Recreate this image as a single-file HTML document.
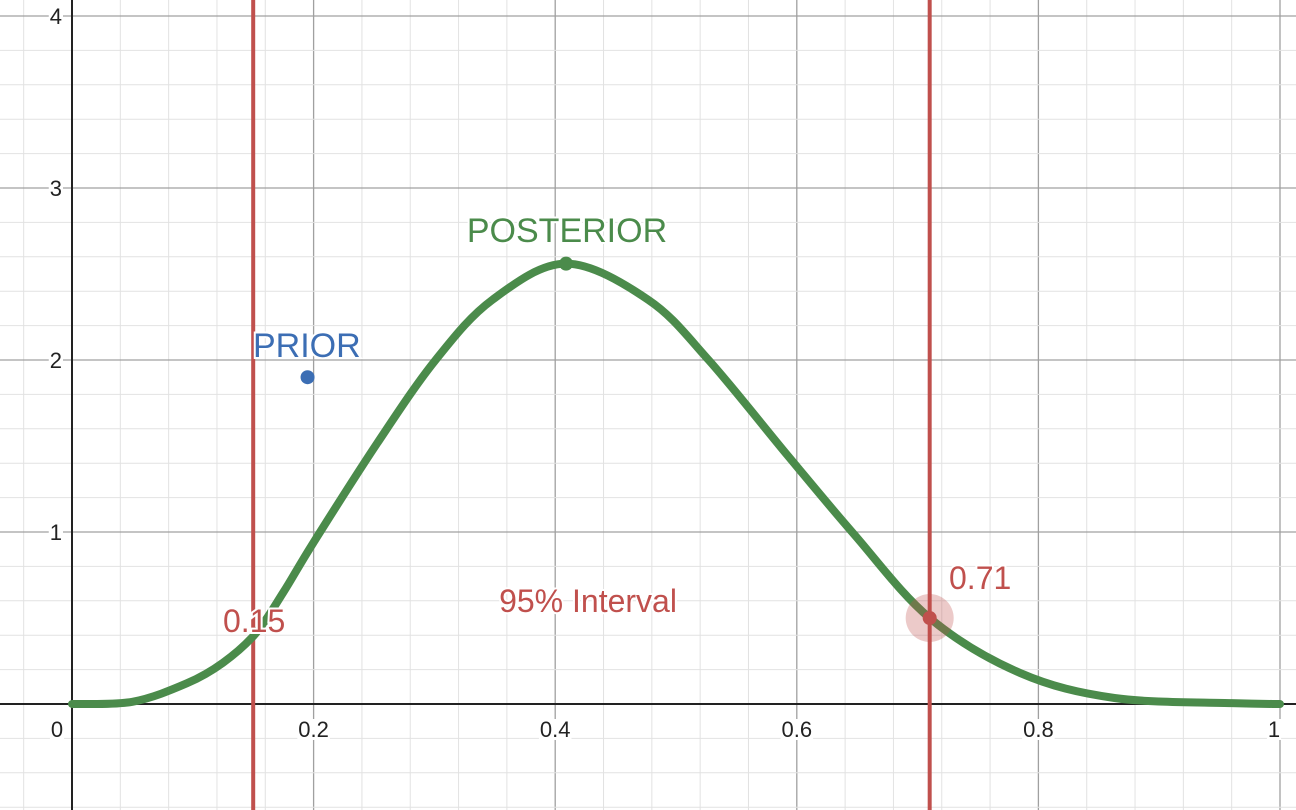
<!DOCTYPE html>
<html><head><meta charset="utf-8"><style>
html,body{margin:0;padding:0;background:#fff;}
svg{display:block;font-family:"Liberation Sans",Arial,sans-serif;}
</style></head><body>
<svg id="chart" width="1296" height="810" viewBox="0 0 1296 810" xmlns="http://www.w3.org/2000/svg">
<g id="grid"></g>
<g id="axes"></g>
<g id="marks"></g>
</svg>
<script>
const curveX = [0,0.05,0.095,0.125,0.152,0.175,0.2,0.253,0.301,0.348,0.409,0.477,0.527,0.593,0.647,0.71,0.785,0.863,0.96,1];
const curveY = [0,0.013,0.12,0.24,0.41,0.65,0.94,1.52,2.0,2.35,2.56,2.35,2.0,1.44,0.99,0.5,0.18,0.035,0.005,0];
const xTicks = [0.2,0.4,0.6,0.8,1];
const xTickLabels = ["0.2","0.4","0.6","0.8","1"];
const yTicks = [1,2,3,4];
const yTickLabels = ["1","2","3","4"];
const intervalBounds = [0.15,0.71];
const intervalLabels = ["0.15","0.71"];
const peak = [0.409,2.56];
const prior = [0.195,1.9];
const upperPointY = 0.5;

const X = v => 72 + v*1208;
const Y = v => 704 - v*172;
const NS="http://www.w3.org/2000/svg";
function mk(parent,tag,attrs){const e=document.createElementNS(NS,tag);for(const k in attrs)e.setAttribute(k,attrs[k]);parent.appendChild(e);return e;}
const grid=document.getElementById('grid'),axes=document.getElementById('axes'),marks=document.getElementById('marks');

for(let i=-10;i<=30;i++){const v=i*0.04;const px=X(v);if(px<0||px>1296)continue;
  const major=(i%5===0);
  const l=mk(grid,'line',{x1:px,y1:0,x2:px,y2:810,stroke:major?'#a0a0a0':'#e2e2e2','stroke-width':major?1.3:1});
  
  }
for(let i=-10;i<=30;i++){const v=i*0.2;const py=Y(v);if(py<0||py>810)continue;
  const major=(i%5===0);
  const l=mk(grid,'line',{x1:0,y1:py,x2:1296,y2:py,stroke:major?'#a0a0a0':'#e2e2e2','stroke-width':major?1.3:1});
  
  }

let a=mk(axes,'line',{x1:X(0),y1:0,x2:X(0),y2:810,stroke:'#222','stroke-width':2});


a=mk(axes,'line',{x1:0,y1:Y(0),x2:1296,y2:Y(0),stroke:'#222','stroke-width':2});


function label(parent,x,y,txt,anchor,size,fill,name){
  const r=mk(parent,'rect',{x:0,y:0,width:0,height:0,fill:'#fff'});
  const t=mk(parent,'text',{x:x,y:y,'text-anchor':anchor,'font-size':size,fill:fill});
  t.textContent=txt;
  
  
  const b=t.getBBox();r.setAttribute('x',b.x-1);r.setAttribute('y',b.y+2);r.setAttribute('width',b.width+2);r.setAttribute('height',b.height-4);
  return t;}
label(axes,57,737,"0",'middle',22,'#222','x-tick-label');
xTicks.forEach((v,i)=>{label(axes,X(v)-(v===1?6:0),737,xTickLabels[i],'middle',22,'#222','x-tick-label');});
yTicks.forEach((v,i)=>{label(axes,62,Y(v)+8,yTickLabels[i],'end',22,'#222','y-tick-label');});

intervalBounds.forEach(v=>{const l=mk(marks,'line',{x1:X(v),y1:0,x2:X(v),y2:810,stroke:'#c0504d','stroke-width':4});
  
  });

const pts=curveX.map((x,i)=>[X(x),Y(curveY[i])]);
let d='M'+pts[0][0]+','+pts[0][1];
for(let i=0;i<pts.length-1;i++){const p0=pts[Math.max(0,i-1)],p1=pts[i],p2=pts[i+1],p3=pts[Math.min(pts.length-1,i+2)];
  d+=' C'+(p1[0]+(p2[0]-p0[0])/6)+','+(p1[1]+(p2[1]-p0[1])/6)+' '+(p2[0]-(p3[0]-p1[0])/6)+','+(p2[1]-(p3[1]-p1[1])/6)+' '+p2[0]+','+p2[1];}
const c=mk(marks,'path',{d:d,fill:'none',stroke:'#4b8b4b','stroke-width':8,'stroke-linecap':'round','stroke-linejoin':'round'});



let p=mk(marks,'circle',{cx:X(peak[0]),cy:Y(peak[1]),r:7,fill:'#4b8b4b'});


p=mk(marks,'circle',{cx:X(prior[0]),cy:Y(prior[1]),r:7,fill:'#3c6eb4'});


p=mk(marks,'circle',{cx:X(intervalBounds[1]),cy:Y(upperPointY),r:24,fill:'#c0504d','fill-opacity':0.3});


p=mk(marks,'circle',{cx:X(intervalBounds[1]),cy:Y(upperPointY),r:7,fill:'#c0504d'});



function plain(x,y,txt,size,fill,name,anchor){const t=mk(marks,'text',{x:x,y:y,'font-size':size,fill:fill,'text-anchor':anchor||'start',stroke:'#fff','stroke-width':4,'paint-order':'stroke'});
  t.textContent=txt;return t;}
plain(567,242,"POSTERIOR",34,'#4b8b4b','posterior-label','middle');
plain(253,357,"PRIOR",34,'#3c6eb4','prior-label');
plain(223,632,intervalLabels[0],32,'#c0504d','lower-bound-label');
plain(949,589,intervalLabels[1],32,'#c0504d','upper-bound-label');
plain(588,612,"95% Interval",32,'#c0504d','interval-label','middle');
</script>
</body></html>
